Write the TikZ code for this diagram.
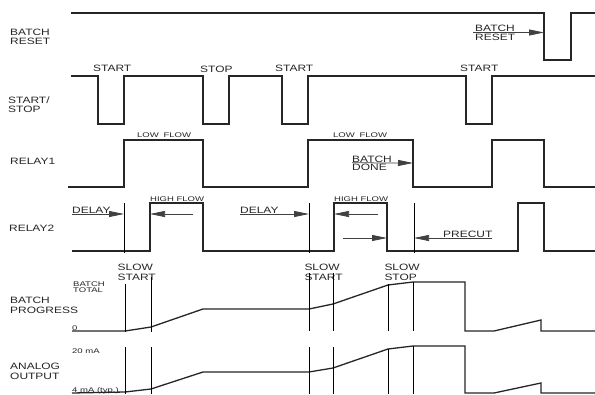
\documentclass[tikz,border=0pt]{standalone}
\usepackage{fontspec}
\usetikzlibrary{arrows.meta}
\newfontfamily\labfont[FakeStretch=1.3]{Liberation Sans}
\newfontfamily\smallfont[FakeStretch=1.4]{Liberation Sans}
\tikzset{
  lab/.style={anchor=base west, inner sep=0pt, text=black!85, font=\fontsize{9.2}{9.2}\labfont\selectfont},
  slab/.style={anchor=base west, inner sep=0pt, text=black!85, font=\fontsize{6.8}{6.8}\smallfont\selectfont},
  sig/.style={line width=1.3pt, draw=black!85, line join=miter},
  mk/.style={line width=0.7pt, draw=black},
  arr/.style={line width=0.75pt, draw=black!75, -{Triangle[length=15pt,width=6pt]}},
}
\begin{document}
\begin{tikzpicture}[x=1pt,y=-1pt]
\useasboundingbox[fill=white] (0,0) rectangle (595,394);
% ---------- left labels ----------
\node[lab] (brA) at (10,35.5) {BATCH};
\node[lab] (brB) at (10,44) {RESET};
\node[lab] (ssA) at (8,103.3) {START/};
\node[lab] (ssB) at (8,112.7) {STOP};
\node[lab] (r1) at (10,164) {RELAY1};
\node[lab] (r2) at (9,231.7) {RELAY2};
\node[lab] (bpA) at (10,303) {BATCH};
\node[lab] (bpB) at (10,313) {PROGRESS};
\node[lab] (aoA) at (10,369.3) {ANALOG};
\node[lab] (aoB) at (10,379.3) {OUTPUT};
% ---------- BATCH RESET ----------
\draw[sig] (71,13) -- (544,13) -- (544,60) -- (571,60) -- (571,13) -- (595,13);
\node[lab] (rsA) at (475,31.7) {BATCH};
\node[lab] (rsB) at (475,40.7) {RESET};
\coordinate (rsT) at (544,32.5);
\draw[arr] (rsA.base west) ++(-2,0.8) -- (rsT);
% ---------- START/STOP ----------
\draw[sig] (71,76) -- (98,76) -- (98,124) -- (124,124) -- (124,76)
  -- (203,76) -- (203,124) -- (229,124) -- (229,76)
  -- (282,76) -- (282,124) -- (308,124) -- (308,76)
  -- (466,76) -- (466,124) -- (492,124) -- (492,76) -- (595,76);
\node[lab] (st1) at (93,71.7) {START};
\node[lab] (sp1) at (200,72.5) {STOP};
\node[lab] (st2) at (275,71.7) {START};
\node[lab] (st3) at (460,71.7) {START};
% ---------- RELAY1 ----------
\draw[sig] (68,187) -- (124,187) -- (124,140) -- (203,140) -- (203,187)
  -- (308,187) -- (308,140) -- (413,140) -- (413,187)
  -- (492,187) -- (492,140) -- (544,140) -- (544,187) -- (595,187);
\node[slab] (lf1) at (137,137.3) {LOW\hspace{2pt} FLOW};
\node[slab] (lf2) at (333,137.3) {LOW\hspace{2pt} FLOW};
\node[lab] (bdA) at (352,162) {BATCH};
\node[lab] (bdB) at (352,170.7) {DONE};
\coordinate (bdT) at (413,163);
\draw[arr] (bdA.base west) ++(0,0.8) -- (bdT);
% ---------- RELAY2 ----------
\draw[sig] (72,251) -- (150,251) -- (150,203) -- (203,203) -- (203,251)
  -- (334,251) -- (334,203) -- (387,203) -- (387,251)
  -- (518,251) -- (518,203) -- (544,203) -- (544,251) -- (595,251);
\draw[mk] (124,203) -- (124,253);
\draw[mk] (309,203) -- (309,253);
\draw[mk] (414,203) -- (414,253);
\node[slab] (hf1) at (150,201) {HIGH FLOW};
\node[slab] (hf2) at (334,201) {HIGH FLOW};
\node[lab] (dl1) at (72,213) {DELAY};
\node[lab] (dl2) at (240,213) {DELAY};
\node[lab] (pc) at (443,237) {PRECUT};
\coordinate (d1T) at (124,214);
\coordinate (d2T) at (309,214);
\coordinate (h1S) at (193,214);
\coordinate (h1T) at (150,214);
\coordinate (h2S) at (378,214);
\coordinate (h2T) at (334,214);
\coordinate (fS) at (343,238);
\coordinate (fT) at (387,238);
\coordinate (pS) at (492,238);
\coordinate (pT) at (414,238);
\draw[arr] (dl1.base west) ++(0,1) -- (d1T);
\draw[arr] (dl2.base west) ++(0,1) -- (d2T);
\draw[arr] (h1S) -- (h1T);
\draw[arr] (h2S) -- (h2T);
\draw[arr] (fS) -- (fT);
\draw[arr] (pS) -- (pT);
% ---------- BATCH PROGRESS ----------
\node[lab] (ss1A) at (117.5,270.7) {SLOW};
\node[lab] (ss1B) at (117.5,280.7) {START};
\node[lab] (ss2A) at (304.3,270.7) {SLOW};
\node[lab] (ss2B) at (304.3,280.7) {START};
\node[lab] (sstA) at (384.3,270.7) {SLOW};
\node[lab] (sstB) at (384.3,280.7) {STOP};
\node[slab] (btA) at (73,286) {BATCH};
\node[slab] (btB) at (73,292.5) {TOTAL};
\node[slab] (zero) at (72,330) {0};
\draw[sig] (72,331) -- (125,331) -- (151,327) -- (203,309) -- (309,309)
  -- (333,304) -- (388,285) -- (413,282) -- (465,282) -- (465,331)
  -- (494,331) -- (541,320) -- (541,331) -- (595,331);
\draw[mk] (125,284) -- (125,332);
\draw[mk] (151,277) -- (151,332);
\draw[mk] (309,273) -- (309,331);
\draw[mk] (333,273) -- (333,331);
\draw[mk] (388,284) -- (388,331);
\draw[mk] (413,282) -- (413,331);
% ---------- ANALOG OUTPUT ----------
\node[slab] (ma20) at (72,353.3) {20 mA};
\node[slab] (ma4) at (72,392) {4 mA (typ.)};
\draw[sig] (72,393) -- (125,392) -- (151,389) -- (203,372) -- (309,372)
  -- (333,368) -- (388,349) -- (413,346) -- (465,346) -- (465,393)
  -- (494,393) -- (541,383) -- (541,393) -- (595,393);
\draw[mk] (125,347) -- (125,394);
\draw[mk] (151,347) -- (151,394);
\draw[mk] (309,347) -- (309,394);
\draw[mk] (333,347) -- (333,394);
\draw[mk] (388,349) -- (388,394);
\draw[mk] (413,346) -- (413,394);
\end{tikzpicture}
\end{document}
